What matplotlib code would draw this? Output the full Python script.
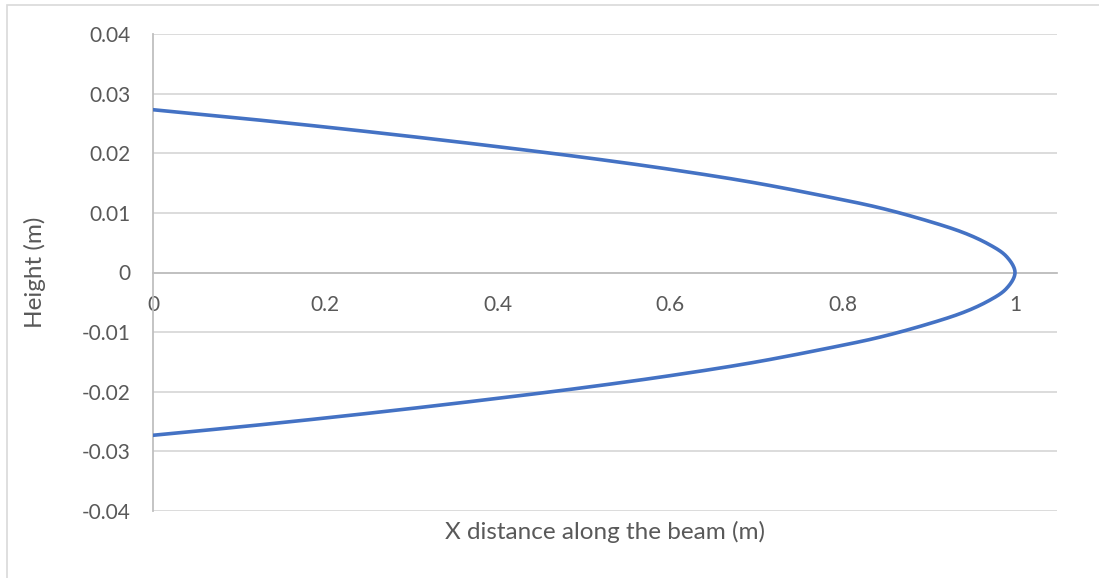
import numpy as np
import matplotlib
matplotlib.use("Agg")
import matplotlib.pyplot as plt
from matplotlib.patches import Rectangle

# Beam profile: distance along the beam (m) and upper/lower surface height (m)
x_upper = [0.0, 0.1, 0.2, 0.3, 0.4, 0.5, 0.6, 0.7, 0.8, 0.85, 0.9, 0.94, 0.97, 0.99, 1.0]
h_upper = [0.0273, 0.0259, 0.0244, 0.0228, 0.0211, 0.0193, 0.0173, 0.0150, 0.0122,
           0.0106, 0.0086, 0.0067, 0.0047, 0.0027, 0.0]
x_lower = [0.99, 0.97, 0.94, 0.9, 0.85, 0.8, 0.7, 0.6, 0.5, 0.4, 0.3, 0.2, 0.1, 0.0]
h_lower = [-0.0027, -0.0047, -0.0067, -0.0086, -0.0106, -0.0122, -0.0150, -0.0173,
           -0.0193, -0.0211, -0.0228, -0.0244, -0.0259, -0.0273]

x_ticks = [0, 0.2, 0.4, 0.6, 0.8, 1]
x_tick_labels = ["0", "0.2", "0.4", "0.6", "0.8", "1"]
y_ticks = [-0.04, -0.03, -0.02, -0.01, 0, 0.01, 0.02, 0.03, 0.04]
y_tick_labels = ["-0.04", "-0.03", "-0.02", "-0.01", "0", "0.01", "0.02", "0.03", "0.04"]

x_label = "X distance along the beam (m)"
y_label = "Height (m)"


def smooth(px, py, n=20):
    """Uniform Catmull-Rom curve through the points (smoothed line)."""
    px = np.asarray(px, float)
    py = np.asarray(py, float)
    P = np.column_stack([px, py])
    P = np.vstack([2 * P[0] - P[1], P, 2 * P[-1] - P[-2]])
    out = []
    t = np.linspace(0, 1, n, endpoint=False)[:, None]
    for i in range(1, len(P) - 2):
        p0, p1, p2, p3 = P[i - 1], P[i], P[i + 1], P[i + 2]
        seg = 0.5 * ((2 * p1) + (-p0 + p2) * t + (2 * p0 - 5 * p1 + 4 * p2 - p3) * t ** 2
                     + (-p0 + 3 * p1 - 3 * p2 + p3) * t ** 3)
        out.append(seg)
    out.append(P[-2][None, :])
    out = np.vstack(out)
    return out[:, 0], out[:, 1]


plt.rcParams['font.family'] = ['Lato', 'DejaVu Sans']
text_color = "#595959"

fig = plt.figure(figsize=(10.99, 5.78), dpi=100)
fig.patch.set_facecolor("white")
fig.patches.append(Rectangle((7 / 1099, -0.2), 1.5, 1.2 - 5 / 578, transform=fig.transFigure,
                             fill=False, edgecolor="#d9d9d9", linewidth=1.2, figure=fig))

ax = fig.add_axes([153 / 1099, 1 - 511 / 578, (1057 - 153) / 1099, (511 - 34) / 578])

xs, ys = smooth(x_upper + x_lower, h_upper + h_lower)
ax.plot(xs, ys, color="#4472C4", linewidth=2.6, solid_capstyle="round", zorder=3)

ax.set_xlim(0, (1057 - 153) / 862)
ax.set_ylim(-0.04, 0.04)
ax.set_xticks(x_ticks)
ax.set_xticklabels(x_tick_labels)
ax.set_yticks(y_ticks)
ax.set_yticklabels(y_tick_labels)

ax.grid(axis="y", color="#d9d9d9", linewidth=1.3, zorder=0)
ax.set_axisbelow(True)

for s in ["top", "right"]:
    ax.spines[s].set_visible(False)
ax.spines["bottom"].set_position(("data", 0))
ax.spines["bottom"].set_color("#bfbfbf")
ax.spines["bottom"].set_linewidth(1.3)
ax.spines["left"].set_color("#bfbfbf")
ax.spines["left"].set_linewidth(1.3)

ax.tick_params(axis="both", length=0, labelsize=15, labelcolor=text_color)
ax.tick_params(axis="x", pad=16)
ax.tick_params(axis="y", pad=16)

fig.text(605 / 1099, 1 - 532 / 578, x_label, ha="center", va="center",
         fontsize=17.5, color=text_color)
fig.text(35 / 1099, 1 - 272 / 578, y_label, ha="center", va="center",
         rotation=90, fontsize=17.5, color=text_color)

fig.savefig("out.png", dpi=100, facecolor="white")
